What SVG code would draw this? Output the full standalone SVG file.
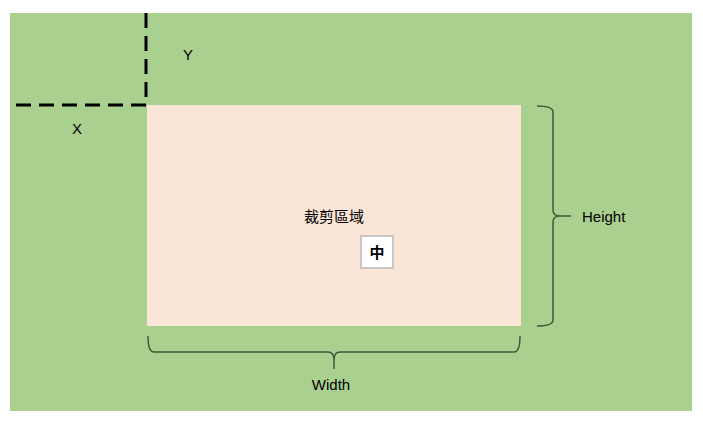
<svg xmlns="http://www.w3.org/2000/svg" width="703" height="424" viewBox="0 0 703 424">
<style>
.t{font-family:"Liberation Sans","Noto Sans CJK TC",sans-serif;font-size:15px;fill:#000}
.br{fill:none;stroke:#3d5a3d;stroke-width:1.5}
.d{stroke:#000;stroke-width:3;stroke-dasharray:15,8;fill:none}
</style>
<rect x="0" y="0" width="703" height="424" fill="#fff"/>
<rect x="10" y="13" width="682" height="398" fill="#a9d08e"/>
<g id="clip"><rect x="147" y="105" width="374" height="221" fill="#fbe5d6"/>
<text class="t" x="334" y="222" text-anchor="middle">裁剪區域</text></g>
<g id="center"><rect x="361" y="236" width="32" height="32" fill="#fff" stroke="#c8c8c8" stroke-width="2"/>
<text class="t" x="377" y="258" text-anchor="middle" font-weight="bold">中</text></g>
<g id="connectors">
<path class="d" d="M146 13 V105 H10"/>
<path class="br" d="M537 106 Q553 106 553 112 V210 Q553 216 560 216 Q553 216 553 222 V320 Q553 326 537 326 M560 216 H571"/>
<path class="br" d="M148 336 Q148 352 154 352 H328 Q334 352 334 360 Q334 352 340 352 H514 Q520 352 520 336 M334 360 V369"/>
</g>
<g id="labels">
<text class="t" x="188" y="60" text-anchor="middle">Y</text>
<text class="t" x="77" y="134" text-anchor="middle">X</text>
<text class="t" x="582" y="222">Height</text>
<text class="t" x="331" y="390" text-anchor="middle">Width</text>
</g>
</svg>
